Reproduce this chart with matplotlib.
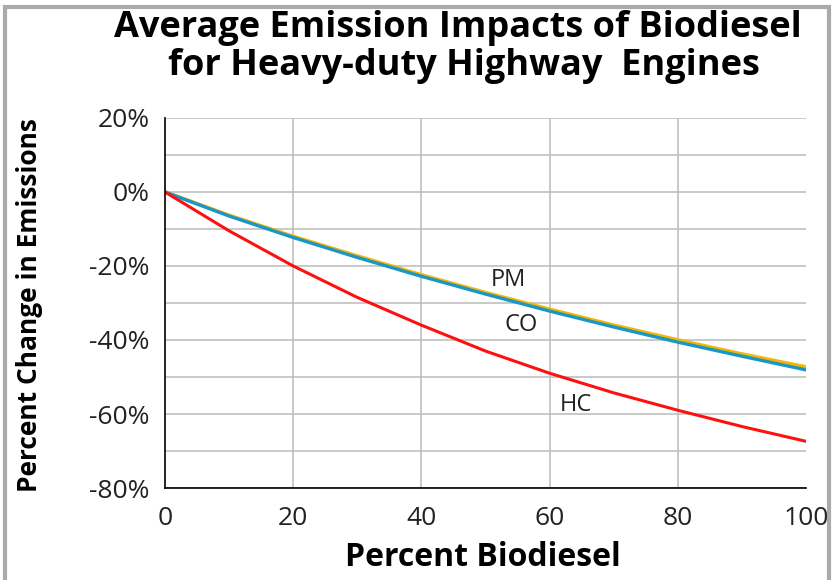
import numpy as np
import matplotlib.pyplot as plt
from matplotlib.patches import Rectangle

# values
blend = [0, 10, 20, 30, 40, 50, 60, 70, 80, 90, 100]
pm = [0, -6.3, -12.0, -17.3, -22.4, -27.2, -31.7, -36.0, -40.0, -43.8, -47.3]
co = [0, -6.5, -12.3, -17.7, -22.8, -27.6, -32.2, -36.5, -40.6, -44.4, -48.1]
hc = [0, -10.5, -20.0, -28.5, -36.0, -43.0, -49.0, -54.3, -59.0, -63.4, -67.4]

yticks = [20, 0, -20, -40, -60, -80]
xticks = [0, 20, 40, 60, 80, 100]

plt.rcParams['font.family'] = ['Open Sans', 'DejaVu Sans']

fig = plt.figure(figsize=(8.33, 5.80), dpi=100)
ax = fig.add_axes([0.198, 0.1586, 0.770, 0.638])

ax.plot(blend, pm, color='#f2b705', lw=2.6, solid_capstyle='round')
ax.plot(blend, co, color='#1a97c4', lw=2.4, solid_capstyle='round')
ax.plot(blend, hc, color='#ff1010', lw=2.2, solid_capstyle='round')

ax.text(53.5, -23.8, 'PM', fontsize=17, color='#222222', ha='center', va='center')
ax.text(55.5, -36, 'CO', fontsize=17, color='#222222', ha='center', va='center')
ax.text(64, -57.6, 'HC', fontsize=17, color='#222222', ha='center', va='center')

ax.set_xlim(0, 100)
ax.set_ylim(-80, 20)
ax.set_xticks(xticks)
ax.set_xticklabels([str(v) for v in xticks])
ax.set_yticks(yticks)
ax.set_yticklabels([f'{v}%' for v in yticks])
ax.set_yticks(np.arange(-70, 20, 10), minor=True)
ax.grid(True, which='both', axis='y', color='#bbbbbb', lw=1.1)
for xv in xticks[1:-1]:
    ax.axvline(xv, color='#bbbbbb', lw=1.1, zorder=0)
ax.set_axisbelow(True)
ax.tick_params(which='both', length=0, labelsize=19, colors='#222222')
ax.tick_params(axis='x', pad=13)
ax.tick_params(axis='y', pad=11)
for s in ['top', 'right']:
    ax.spines[s].set_visible(False)
for s in ['left', 'bottom']:
    ax.spines[s].set_color('black')
    ax.spines[s].set_linewidth(1.2)

fig.text(483 / 833, 1 - 558 / 580, 'Percent Biodiesel', fontsize=23,
         fontweight='bold', ha='center', va='center')
fig.text(30 / 833, 1 - 305 / 580, 'Percent Change in Emissions', fontsize=19,
         fontweight='bold', ha='center', va='center', rotation=90)

fig.text(458 / 833, 1 - 28 / 580, 'Average Emission Impacts of Biodiesel', fontsize=26,
         fontweight='bold', ha='center', va='center')
fig.text(464 / 833, 1 - 66 / 580, 'for Heavy-duty Highway  Engines', fontsize=26,
         fontweight='bold', ha='center', va='center')

# grey frame around the picture
fig.patches.append(Rectangle((0.006, -0.02), 0.989, 1.008, transform=fig.transFigure,
                             fill=False, edgecolor='#aaaaaa', lw=3))

fig.savefig('out.png', dpi=100)
